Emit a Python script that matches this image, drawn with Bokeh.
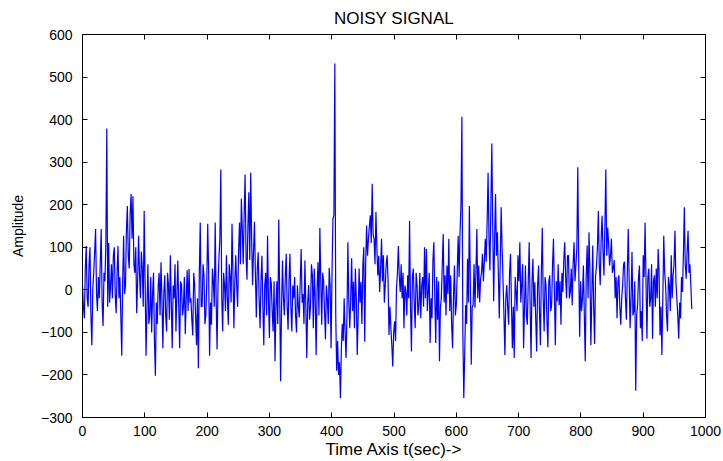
from bokeh.plotting import figure
from bokeh.models import (Range1d, LinearAxis, SingleIntervalTicker, ColumnDataSource,
                          CustomLabelingPolicy)
from bokeh.embed import file_html
from bokeh.resources import INLINE

# Amplitude samples (one every 1.5 s)
amplitude = [
    10, -40, -67, 50, 103, -20, -40, 60, 100, -60, -130, 0, 40, 90, 143, -10, -50, 30, -20, 60,
    143, -30, -85, 40, 20, 110, 379, -40, 110, -30, 10, 60, -20, 80, 100, -10, -55, 40, 103, -20,
    30, -60, -155, 20, 127, -10, 10, 140, 197, 80, 50, 180, 225, 120, 220, 60, 40, 100, -55, 20,
    127, 40, -20, 90, 50, -40, 185, 20, -155, -40, 60, -80, -60, 30, -100, -10, 40, -120, -202, -30,
    -80, 10, 40, -60, 65, -20, -137, -10, 34, -60, -98, 40, 11, -70, 81, -30, -137, 10, -20, 60,
    -98, -10, 69, -40, -137, 20, 11, -60, -40, 30, -104, -20, 46, -50, 49, -30, -20, -70, -107, 40,
    11, -60, -130, -20, -184, 40, 158, -40, -39, 60, 34, -80, -60, 20, 155, 40, -155, -30, -82, 50,
    20, -40, 158, -20, -140, 10, 73, 120, 283, -20, -98, 40, 11, -50, 81, -20, -82, 60, 30, -30,
    155, 40, -90, 20, 81, 10, -40, 90, 158, 60, 214, 140, 60, 180, 271, 80, 24, 150, 229, 70,
    275, 120, 11, 90, 160, 40, -65, 50, 88, -20, -90, 20, 80, -40, -130, 10, 40, -60, 127, -20,
    -113, 30, 15, -50, -98, 20, -168, -40, 20, -80, 165, -10, -215, -40, 69, -20, -60, 30, 85, -40,
    -94, 20, 85, -40, -98, 10, -20, 30, -60, -100, 11, -40, -65, 20, 96, -30, -10, -80, 69, -40,
    -160, -30, 11, -70, -39, 60, 34, -90, 50, -20, -153, 0, 65, -60, 145, 20, -82, 40, 20, -50,
    -116, 10, -21, -80, 52, 10, -137, 40, 167, 175, 532, -60, -190, -120, -200, -170, -255, -140, -80, -120,
    -20, -100, -160, -60, 112, -30, -90, -20, 74, -50, 19, -90, 50, -20, -153, -60, 50, -30, 19, -80,
    58, 100, -122, 60, 151, 80, 120, 150, 175, 110, 249, 130, 120, 60, 183, 100, 34, 80, -5, 50,
    120, 20, 81, -30, 11, 60, 81, 20, -106, -40, -90, -130, -180, -100, -74, -120, 3, 40, 103, 30,
    -5, 60, -20, 40, -90, 10, -5, -60, 34, -20, 162, -40, -145, 30, 50, -30, -90, 40, 11, -60,
    -36, 40, -67, 10, 30, -40, 100, -20, 96, -50, -5, 40, -125, -20, -67, 70, 112, -20, -125, 30,
    -70, 20, -168, -40, -20, 60, 131, -30, 34, -60, 57, -10, 120, -50, 34, -80, -137, -20, 57, -60,
    -36, 40, 127, 30, 135, 200, 407, -100, -254, -150, -36, -80, 73, -30, 197, 20, -176, -40, -36, 60,
    -42, 40, 143, -20, 57, -30, 26, 40, 85, 20, 66, 120, 66, 160, 275, 120, 46, 200, 344, 150,
    -27, 120, 225, 80, 135, 40, -67, 60, 194, 100, 20, -60, -153, -20, 11, -40, -82, 40, 85, -30,
    -137, -40, -160, 30, -5, -50, 81, 20, 112, -30, 11, 60, -137, -40, 57, -60, -82, 20, 112, -40,
    -160, 20, 73, -40, 18, -70, -145, 10, 57, -50, -130, 40, 146, -20, -98, 30, 11, -70, -135, 20,
    34, -50, -36, 60, 120, -10, -130, 20, -27, 60, -36, 20, -82, 40, -5, 70, 112, 30, -20, 80,
    81, -20, -5, 50, -36, 60, 112, 20, 57, 100, 288, 60, -110, 20, -50, -20, 57, -60, -168, 30,
    104, -20, 135, 40, -130, -20, 104, -40, -127, 30, 57, 100, 185, 60, 11, 120, 174, 90, 34, 150,
    283, 80, 146, 110, 57, 80, 120, 40, 50, 70, -20, 30, -67, 20, 34, -40, -82, -20, 11, 60,
    66, -20, -70, 40, 143, 20, -90, -20, 89, -60, -50, 20, -237, -60, -36, 30, 57, -90, -50, -120,
    81, 30, 158, 20, -115, 30, 50, -40, -20, 60, -115, 20, 34, -40, 50, -20, 96, 40, -107, -40,
    -153, -20, 127, 40, 11, -60, -98, 30, 11, -50, 81, -20, 34, 60, 139, 20, -20, -60, -115, -30,
    -67, 30, -5, 80, 194, 60, 26, 90, 139, 40, 60, 10, -45,
]
time_s = [i * 1.5 for i in range(len(amplitude))]

title_text = "NOISY SIGNAL"
x_label = "Time Axis t(sec)->"
y_label = "Amplitude"

FONT = "Liberation Sans"

p = figure(width=723, height=461, output_backend="svg", toolbar_location=None,
           x_range=Range1d(0, 1000), y_range=Range1d(-300, 600),
           min_border_left=82, min_border_right=18, min_border_top=34,
           min_border_bottom=41, title=title_text)
p.background_fill_color = "white"
p.border_fill_color = "white"
p.outline_line_color = "black"
p.outline_line_width = 1

p.title.align = "center"
p.title.text_font = FONT
p.title.text_font_size = "17px"
p.title.text_font_style = "normal"
p.title.text_color = "black"
p.title.offset = 0
p.title.standoff = 6

p.xgrid.grid_line_color = None
p.ygrid.grid_line_color = None

src = ColumnDataSource(dict(t=time_s, a=amplitude))
p.line("t", "a", source=src, line_color="#0000ff", line_width=1.2)

def style(ax, show_labels=True):
    ax.ticker = SingleIntervalTicker(interval=100)
    ax.minor_tick_line_color = None
    ax.major_tick_in = 5
    ax.major_tick_out = 0
    ax.axis_line_color = "black"
    ax.major_tick_line_color = "black"
    ax.major_label_text_font = FONT
    ax.major_label_text_color = "black"
    if show_labels:
        ax.major_label_text_font_size = "14px"
    else:
        ax.major_label_text_font_size = "0px"
        ax.major_label_standoff = 0
        ax.major_label_policy = CustomLabelingPolicy(code="return []")

xa = p.xaxis[0]
ya = p.yaxis[0]
style(xa)
style(ya)
xa.major_label_standoff = 4
ya.major_label_standoff = 6
xa.axis_label = x_label
ya.axis_label = y_label
xa.axis_label_text_font_size = "17px"
ya.axis_label_text_font_size = "14px"
for ax in (xa, ya):
    ax.axis_label_text_font = FONT
    ax.axis_label_text_font_style = "normal"
    ax.axis_label_text_color = "black"
xa.axis_label_standoff = 1
ya.axis_label_standoff = 12

top = LinearAxis()
right = LinearAxis()
style(top, False)
style(right, False)
p.add_layout(top, "above")
p.add_layout(right, "right")

open("out.html", "w").write(file_html(p, INLINE))
